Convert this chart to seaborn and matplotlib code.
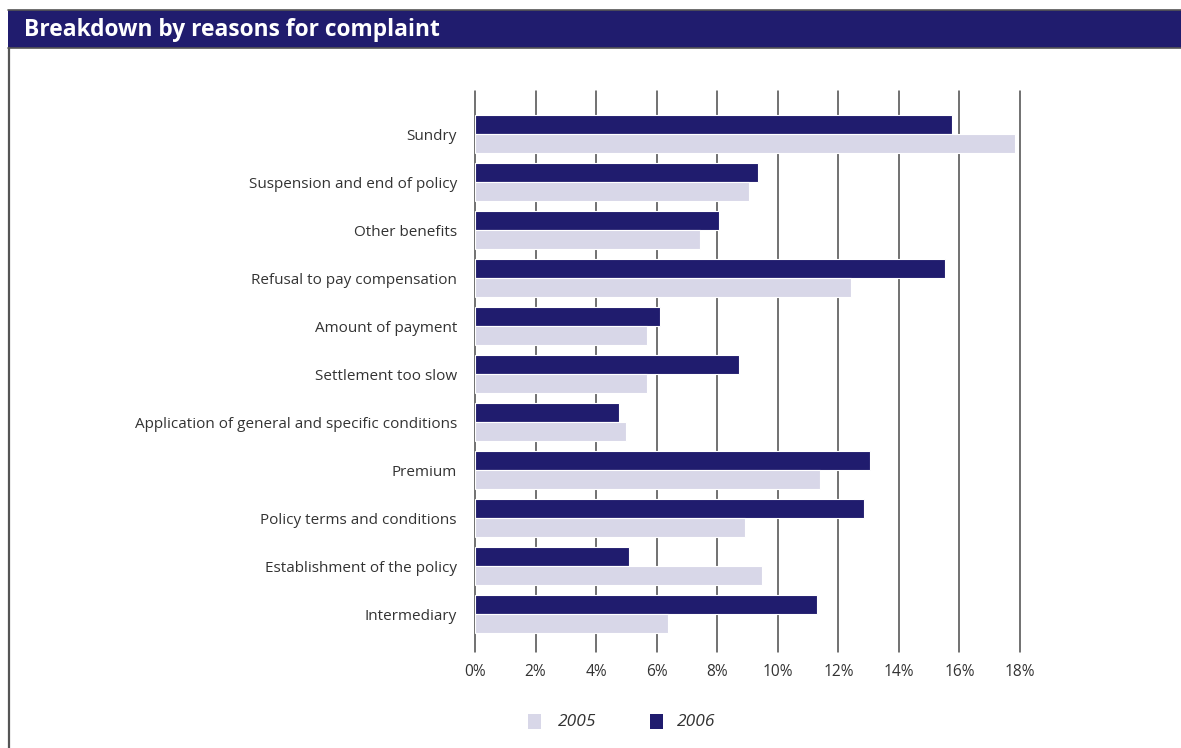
import matplotlib
matplotlib.use("Agg")
import matplotlib.pyplot as plt
from matplotlib.patches import Rectangle
from matplotlib.lines import Line2D
import seaborn as sns
import pandas as pd

categories = [
    "Sundry",
    "Suspension and end of policy",
    "Other benefits",
    "Refusal to pay compensation",
    "Amount of payment",
    "Settlement too slow",
    "Application of general and specific conditions",
    "Premium",
    "Policy terms and conditions",
    "Establishment of the policy",
    "Intermediary",
]
values_2006 = [15.75, 9.34, 8.07, 15.52, 6.10, 8.71, 4.76, 13.05, 12.85, 5.10, 11.31]
values_2005 = [17.84, 9.05, 7.43, 12.42, 5.67, 5.67, 4.98, 11.38, 8.92, 9.48, 6.38]
years = ["2005", "2006"]
x_ticks = [0, 2, 4, 6, 8, 10, 12, 14, 16, 18]
x_tick_labels = [f"{t}%" for t in x_ticks]
title = "Breakdown by reasons for complaint"

NAVY = "#201c6e"
LILAC = "#d8d7e8"
TEXT = "#333333"

sns.set_theme(style="white")
plt.rcParams["font.family"] = ["Open Sans", "DejaVu Sans"]

df = pd.DataFrame({
    "reason": categories * 2,
    "share": values_2006 + values_2005,
    "year": ["2006"] * len(categories) + ["2005"] * len(categories),
})

W, H = 1181, 748
fig = plt.figure(figsize=(W / 100, H / 100), dpi=100)
fig.patch.set_facecolor("white")

ax = fig.add_axes([475 / W, 1 - 652 / H, (1020 - 475) / W, (652 - 91) / H])
ax.set_axisbelow(True)
for t in x_ticks:
    ax.axvline(t, color="#4a4a4a", lw=1.1, zorder=0, clip_on=False)

sns.barplot(
    data=df, y="reason", x="share", hue="year", order=categories,
    hue_order=["2006", "2005"], palette={"2006": NAVY, "2005": LILAC},
    orient="h", width=0.8, dodge=True, saturation=1, legend=False,
    edgecolor="white", linewidth=0.8, ax=ax, zorder=2,
)

ax.set_xlim(0, 18)
ax.set_ylim(10.79, -0.9)
ax.set_xticks(x_ticks)
ax.set_xticklabels(x_tick_labels, fontsize=11.2, color=TEXT)
ax.set_yticks(range(len(categories)))
ax.set_yticklabels(categories, fontsize=11, color=TEXT)
ax.tick_params(axis="x", length=0, pad=9)
ax.tick_params(axis="y", length=0, pad=13)
ax.set_xlabel("")
ax.set_ylabel("")
for s in ax.spines.values():
    s.set_visible(False)

# header band
fig.patches.append(Rectangle((8 / W, 1 - 48 / H), 1 - 8 / W, 38 / H,
                             transform=fig.transFigure, facecolor=NAVY,
                             edgecolor="none", zorder=1))
for yy in (10, 48):
    fig.add_artist(Line2D([8 / W, 1], [1 - yy / H] * 2, color="#555555",
                          lw=1.2, transform=fig.transFigure))
fig.add_artist(Line2D([9 / W, 9 / W], [1 - 48 / H, 0], color="#555555",
                      lw=1.6, transform=fig.transFigure))
fig.text(24 / W, 1 - 30 / H, title, color="white", fontsize=16.4,
         fontweight="bold", va="center", ha="left")

# legend
legend_items = [("2005", LILAC, 528, 558), ("2006", NAVY, 650, 677)]
for label, color, x0, xt in legend_items:
    fig.patches.append(Rectangle((x0 / W, 1 - 729 / H), 13 / W, 15 / H,
                                 transform=fig.transFigure, facecolor=color,
                                 edgecolor="none"))
    fig.text(xt / W, 1 - 722 / H, label, color=TEXT, fontsize=12.5,
             style="italic", va="center", ha="left")

fig.savefig("out.png", dpi=100, facecolor="white")
